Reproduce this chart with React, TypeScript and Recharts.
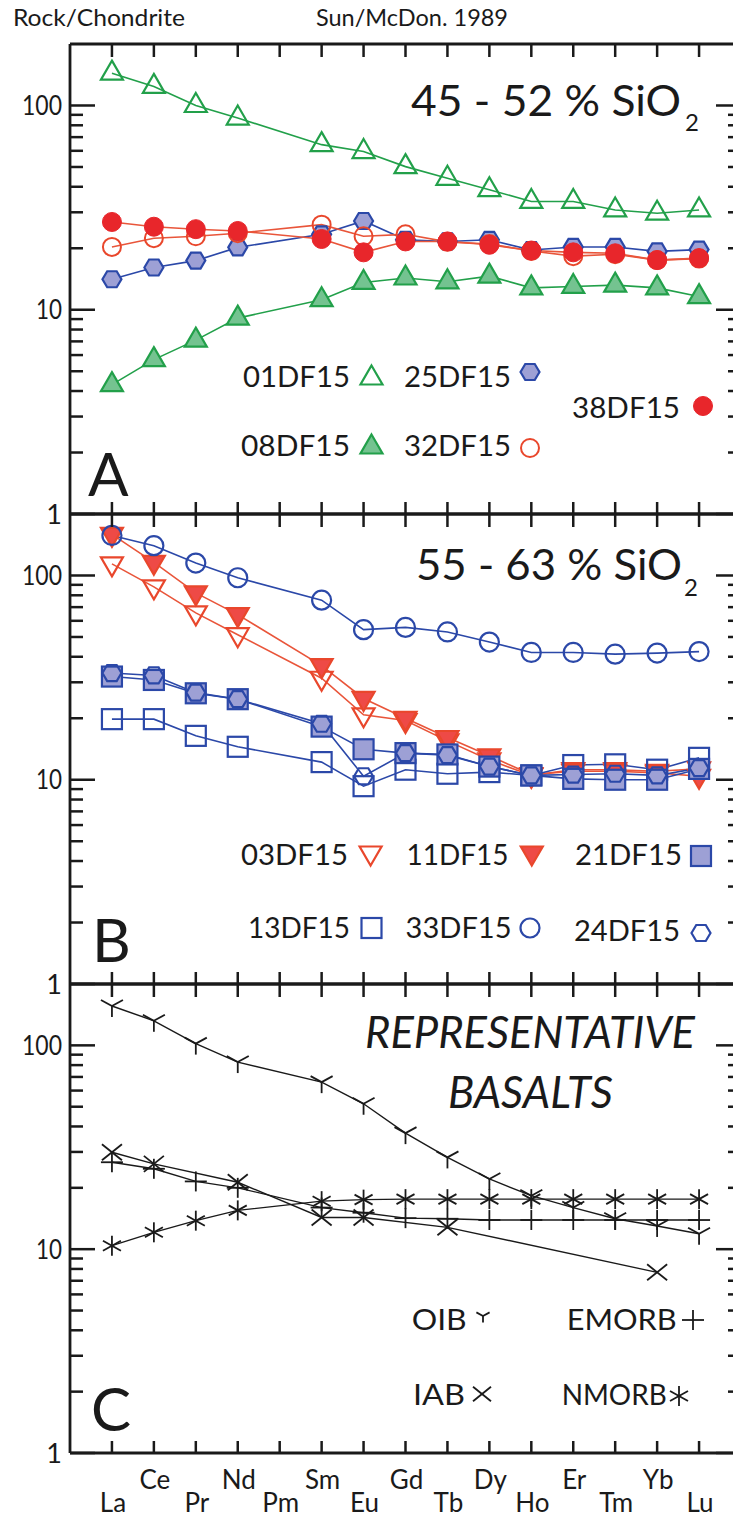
import React from 'react';
import { LineChart, Line, XAxis, YAxis } from 'recharts';

// ---------- categories & ticks ----------
const elements = ['La', 'Ce', 'Pr', 'Nd', 'Pm', 'Sm', 'Eu', 'Gd', 'Tb', 'Dy', 'Ho', 'Er', 'Tm', 'Yb', 'Lu'];
const positions = [1, 2, 3, 4, 5, 6, 7, 8, 9, 10, 11, 12, 13, 14, 15];
const yTicks = [1, 2, 3, 4, 5, 6, 7, 8, 9, 10, 20, 30, 40, 50, 60, 70, 80, 90, 100];
const yLabelled = [1, 10, 100];

// ---------- Panel A : 45 - 52 % SiO2 ----------
const s01DF15 = [144, 124, 100, 86.8, null, 64.3, 59.5, 50.2, 44, 38.7, 33.9, 33.9, 30.8, 29.7, 30.8];
const s08DF15 = [4.3, 5.7, 7.1, 9.1, null, 11.2, 13.6, 14.3, 13.7, 14.6, 12.8, 13.0, 13.2, 12.8, 11.6];
const s25DF15 = [14.1, 16.1, 17.4, 20.2, null, 23.4, 27.2, 22, 21.6, 22, 19.6, 20.3, 20.3, 19.3, 19.7];
const s32DF15 = [20.3, 22.4, 22.9, 23.7, null, 26.1, 22.9, 23.4, 21.5, 21, 19.4, 18.3, 18.7, 17.5, 17.8];
const s38DF15 = [26.9, 25.5, 24.8, 24.3, null, 22.2, 19.1, 21.6, 21.6, 20.8, 19.5, 19.1, 18.9, 17.5, 17.9];

// ---------- Panel B : 55 - 63 % SiO2 ----------
const s03DF15 = [114, 88, 65.6, 51.3, null, 31.4, 20.8, 19.5, 15.5, 12.5, 10.5, 11.2, 11.2, 11, 11.3];
const s11DF15 = [159, 116, 82.2, 64.3, null, 36.2, 25, 20, 16.1, 13.1, 10.6, 11, 11, 10.8, 10.4];
const s33DF15 = [157, 140, 115, 97.5, null, 75.7, 54.3, 55.7, 52.9, 47.2, 42, 42, 41.2, 41.7, 42.4];
const s13DF15 = [19.8, 19.8, 16.4, 14.5, null, 12.2, 9.3, 11.2, 10.7, 10.9, 10.5, 11.8, 11.9, 11.2, 12.8];
const s21DF15 = [32, 30.8, 26.5, 24.8, null, 18.2, 14.1, 13.5, 13.3, 11.6, 10.5, 10.1, 10.0, 10.0, 11.3];
const s24DF15 = [33.3, 32.4, 26.7, 24.8, null, 18.8, 10.4, 13.5, 13.2, 11.6, 10.5, 10.6, 10.7, 10.5, 11.4];

// ---------- Panel C : representative basalts ----------
const oib = [156, 132, 102, 82.8, null, 66, 51.7, 37.1, 28.2, 22.1, 18.3, 16.0, 14.1, 13.0, 11.9];
const iab = [29.9, 26.2, null, 21.3, null, 14.3, 14.3, null, 12.8, null, null, null, null, 7.7, null];
const emorb = [26.7, 24.8, 21.5, 20, null, 16, 15.1, 14.2, 14.1, 13.9, 13.9, 13.9, 13.9, 13.9, 13.9];
const nmorb = [10.4, 12.1, 13.8, 15.5, null, 17.2, 17.5, 17.6, 17.6, 17.6, 17.6, 17.6, 17.6, 17.6, 17.6];

const buildRows = (cols: Record<string, (number | null)[]>) =>
  elements.map((el, i) => {
    const row: any = { x: positions[i], el };
    Object.keys(cols).forEach((k) => (row[k] = cols[k][i]));
    return row;
  });

const rowsA = buildRows({ s01DF15, s08DF15, s25DF15, s32DF15, s38DF15 });
const rowsB = buildRows({ s03DF15, s11DF15, s33DF15, s13DF15, s21DF15, s24DF15 });
const rowsC = buildRows({ oib, iab, emorb, nmorb });

// ---------- styles ----------
const FONT = "Lato, 'Open Sans', sans-serif";
const INK = '#1a1a1a';
const GREEN = '#22a04a';
const GREEN_FILL = '#74c390';
const BLUE = '#2b48a8';
const BLUE_FILL = '#9da0d5';
const RED = '#e8262b';
const RED_LINE = '#e9553a';
const RED_OPEN = '#e9472c';
const RED_TRI_FILL = '#ee4a46';

const W = 760;

type Kind =
  | 'triUpOpen' | 'triUpFilled' | 'hexFilled' | 'hexOpen' | 'circleFilled' | 'circleOpen' | 'circleOpenBlue'
  | 'triDownOpen' | 'triDownFilled' | 'squareFilled' | 'squareOpen' | 'Y' | 'plus' | 'cross' | 'star';

function marker(kind: Kind, cx: number, cy: number, scale = 1) {
  const s = scale;
  switch (kind) {
    case 'triUpOpen':
    case 'triUpFilled': {
      const pts = `${cx},${cy - 12.5 * s} ${cx + 11 * s},${cy + 6.5 * s} ${cx - 11 * s},${cy + 6.5 * s}`;
      return <polygon points={pts} fill={kind === 'triUpFilled' ? GREEN_FILL : 'none'} stroke={GREEN} strokeWidth={2.2} strokeLinejoin="miter" />;
    }
    case 'triDownOpen':
    case 'triDownFilled': {
      const pts = `${cx},${cy + 12.5 * s} ${cx + 11 * s},${cy - 6.5 * s} ${cx - 11 * s},${cy - 6.5 * s}`;
      return <polygon points={pts} fill={kind === 'triDownFilled' ? RED_TRI_FILL : 'none'} stroke={RED_OPEN} strokeWidth={2.2} />;
    }
    case 'hexFilled':
    case 'hexOpen': {
      const a = 9.5 * s, b = 4.75 * s, h = 8 * s;
      const pts = `${cx - a},${cy} ${cx - b},${cy - h} ${cx + b},${cy - h} ${cx + a},${cy} ${cx + b},${cy + h} ${cx - b},${cy + h}`;
      return <polygon points={pts} fill={kind === 'hexFilled' ? BLUE_FILL : 'none'} stroke={BLUE} strokeWidth={2.2} />;
    }
    case 'circleFilled':
      return <circle cx={cx} cy={cy} r={9.5 * s} fill={RED} stroke={RED} strokeWidth={1} />;
    case 'circleOpen':
      return <circle cx={cx} cy={cy} r={9 * s} fill="none" stroke={RED_OPEN} strokeWidth={2} />;
    case 'circleOpenBlue':
      return <circle cx={cx} cy={cy} r={9.5 * s} fill="none" stroke={BLUE} strokeWidth={2.2} />;
    case 'squareFilled':
    case 'squareOpen': {
      const d = 10 * s;
      return <rect x={cx - d} y={cy - d} width={2 * d} height={2 * d} fill={kind === 'squareFilled' ? BLUE_FILL : 'none'} stroke={BLUE} strokeWidth={2.2} />;
    }
    case 'Y':
      return (
        <g stroke={INK} strokeWidth={1.8} fill="none">
          <line x1={cx} y1={cy} x2={cx - 11 * s} y2={cy - 6 * s} />
          <line x1={cx} y1={cy} x2={cx + 11 * s} y2={cy - 6 * s} />
          <line x1={cx} y1={cy} x2={cx} y2={cy + 11 * s} />
        </g>
      );
    case 'plus':
      return (
        <g stroke={INK} strokeWidth={1.8}>
          <line x1={cx - 11 * s} y1={cy} x2={cx + 11 * s} y2={cy} />
          <line x1={cx} y1={cy - 10 * s} x2={cx} y2={cy + 10 * s} />
        </g>
      );
    case 'cross':
      return (
        <g stroke={INK} strokeWidth={1.8}>
          <line x1={cx - 10 * s} y1={cy - 8 * s} x2={cx + 10 * s} y2={cy + 8 * s} />
          <line x1={cx - 10 * s} y1={cy + 8 * s} x2={cx + 10 * s} y2={cy - 8 * s} />
        </g>
      );
    case 'star':
      return (
        <g stroke={INK} strokeWidth={1.8}>
          <line x1={cx} y1={cy - 10 * s} x2={cx} y2={cy + 10 * s} />
          <line x1={cx - 9 * s} y1={cy - 5 * s} x2={cx + 9 * s} y2={cy + 5 * s} />
          <line x1={cx - 9 * s} y1={cy + 5 * s} x2={cx + 9 * s} y2={cy - 5 * s} />
        </g>
      );
  }
  return null;
}

const dotFor = (kind: Kind) => (p: any) => {
  const { cx, cy, index } = p;
  if (cx == null || cy == null || !Number.isFinite(cx) || !Number.isFinite(cy) || p.value == null) {
    return <g key={`d-${index}`} />;
  }
  return <g key={`d-${index}`}>{marker(kind, cx, cy)}</g>;
};

// ---------- custom ticks ----------
const LeftTick = (props: any) => {
  const { x, y, payload } = props;
  const v = payload.value;
  const major = yLabelled.includes(v);
  return (
    <g>
      <line x1={x} x2={x + (major ? 25 : 13)} y1={y} y2={y} stroke={INK} strokeWidth={2.5} />
      {major && (
        <text x={62} y={y} dy="0.36em" textAnchor="end" fontFamily={FONT} fontSize={27} fill={INK}
          {...(v === 100 ? { textLength: 40, lengthAdjust: 'spacingAndGlyphs' } : v === 10 ? { textLength: 26, lengthAdjust: 'spacingAndGlyphs' } : {})}>
          {v}
        </text>
      )}
    </g>
  );
};

const RightTick = (props: any) => {
  const { x, y, payload } = props;
  const major = yLabelled.includes(payload.value);
  return <line x1={x} x2={x - (major ? 25 : 13)} y1={y} y2={y} stroke={INK} strokeWidth={2.5} />;
};

const TopTick = (props: any) => {
  const { x, y } = props;
  return <line x1={x} x2={x} y1={y} y2={y + 13} stroke={INK} strokeWidth={2.5} />;
};

const makeBottomTick = (labels: boolean) => (props: any) => {
  const { x, y, payload } = props;
  const v = payload.value as number;
  const lower = v % 2 === 1;
  return (
    <g>
      <line x1={x} x2={x} y1={y} y2={y - 12} stroke={INK} strokeWidth={2.5} />
      {labels && (
        <text x={x + 1} y={y + (lower ? 59 : 36)} textAnchor="middle" fontFamily={FONT} fontSize={26} fill={INK}>
          {elements[v - 1]}
        </text>
      )}
    </g>
  );
};

type SeriesDef = { key: string; line: string; kind: Kind };

const seriesA: SeriesDef[] = [
  { key: 's01DF15', line: GREEN, kind: 'triUpOpen' },
  { key: 's08DF15', line: GREEN, kind: 'triUpFilled' },
  { key: 's25DF15', line: BLUE, kind: 'hexFilled' },
  { key: 's32DF15', line: RED_LINE, kind: 'circleOpen' },
  { key: 's38DF15', line: RED_LINE, kind: 'circleFilled' },
];
const seriesB: SeriesDef[] = [
  { key: 's03DF15', line: RED_LINE, kind: 'triDownOpen' },
  { key: 's11DF15', line: RED_LINE, kind: 'triDownFilled' },
  { key: 's33DF15', line: BLUE, kind: 'circleOpenBlue' },
  { key: 's13DF15', line: BLUE, kind: 'squareOpen' },
  { key: 's21DF15', line: BLUE, kind: 'squareFilled' },
  { key: 's24DF15', line: BLUE, kind: 'hexOpen' },
];
const seriesC: SeriesDef[] = [
  { key: 'oib', line: INK, kind: 'Y' },
  { key: 'iab', line: INK, kind: 'cross' },
  { key: 'emorb', line: INK, kind: 'plus' },
  { key: 'nmorb', line: INK, kind: 'star' },
];

const axisLine = { stroke: INK, strokeWidth: 2.8 };

function Panel(props: { top: number; bottomH: number; data: any[]; series: SeriesDef[]; labels: boolean }) {
  const { top, bottomH, data, series, labels } = props;
  const plotH = labels ? 469 : 470;
  const height = 44 + plotH + bottomH;
  return (
    <div style={{ position: 'absolute', left: 0, top, width: W, height }}>
      <LineChart width={W} height={height} data={data} margin={{ top: 0, right: 0, bottom: 0, left: 0 }}>
        <XAxis xAxisId="b" dataKey="x" type="number" domain={[0, 16]} ticks={positions} interval={0}
          orientation="bottom" height={bottomH} tickSize={0} tickMargin={0} axisLine={axisLine} tickLine={false}
          tick={makeBottomTick(labels)} allowDataOverflow />
        <XAxis xAxisId="t" dataKey="x" type="number" domain={[0, 16]} ticks={positions} interval={0}
          orientation="top" height={44} tickSize={0} tickMargin={0} axisLine={axisLine} tickLine={false}
          tick={TopTick} allowDataOverflow />
        <YAxis yAxisId="l" type="number" scale="log" domain={[1, 200]} ticks={yTicks} interval={0}
          orientation="left" width={70} tickSize={0} tickMargin={0} axisLine={axisLine} tickLine={false}
          tick={LeftTick} allowDataOverflow />
        <YAxis yAxisId="r" type="number" scale="log" domain={[1, 200]} ticks={yTicks} interval={0}
          orientation="right" width={19} tickSize={0} tickMargin={0} axisLine={axisLine} tickLine={false}
          tick={RightTick} allowDataOverflow />
        <Line xAxisId="t" yAxisId="r" dataKey={series[0].key} stroke="none" dot={false} activeDot={false}
          isAnimationActive={false} connectNulls />
        {series.map((s) => (
          <Line key={s.key} xAxisId="b" yAxisId="l" dataKey={s.key} type="linear" stroke={s.line}
            strokeWidth={s.line === INK ? 1.4 : 1.6} connectNulls dot={dotFor(s.kind)} activeDot={false}
            isAnimationActive={false} />
        ))}
      </LineChart>
    </div>
  );
}

// ---------- overlay texts / legends ----------
const T = (p: { x: number; y: number; len?: number; size?: number; italic?: boolean; children: React.ReactNode }) => (
  <text x={p.x} y={p.y} fontFamily={FONT} fontSize={p.size ?? 28} fill={INK} fontStyle={p.italic ? 'italic' : 'normal'}
    {...(p.len ? { textLength: p.len, lengthAdjust: 'spacingAndGlyphs' } : {})}>
    {p.children}
  </text>
);

const legendA = [
  { label: '01DF15', x: 243, y: 387, len: 107, kind: 'triUpOpen' as Kind, mx: 371.5, my: 378 },
  { label: '25DF15', x: 404, y: 387, len: 107, kind: 'hexFilled' as Kind, mx: 530, my: 372 },
  { label: '38DF15', x: 572, y: 418, len: 108, kind: 'circleFilled' as Kind, mx: 703, my: 406 },
  { label: '08DF15', x: 241, y: 456, len: 109, kind: 'triUpFilled' as Kind, mx: 371.5, my: 447 },
  { label: '32DF15', x: 404, y: 456, len: 107, kind: 'circleOpen' as Kind, mx: 530, my: 448 },
];
const legendB = [
  { label: '03DF15', x: 241, y: 865, len: 107, kind: 'triDownOpen' as Kind, mx: 370.6, my: 853 },
  { label: '11DF15', x: 406.5, y: 865, len: 102, kind: 'triDownFilled' as Kind, mx: 531.8, my: 853 },
  { label: '21DF15', x: 575, y: 865, len: 107, kind: 'squareFilled' as Kind, mx: 701, my: 856 },
  { label: '13DF15', x: 248, y: 938, len: 102, kind: 'squareOpen' as Kind, mx: 371.5, my: 928 },
  { label: '33DF15', x: 405.6, y: 938, len: 106, kind: 'circleOpenBlue' as Kind, mx: 530, my: 928 },
  { label: '24DF15', x: 574, y: 941, len: 106, kind: 'hexOpen' as Kind, mx: 701, my: 933 },
];
const legendC = [
  { label: 'OIB', x: 411.7, y: 1330, len: 55, kind: 'Y' as Kind, mx: 483, my: 1316, s: 0.6 },
  { label: 'EMORB', x: 566.7, y: 1330, len: 110, kind: 'plus' as Kind, mx: 693, my: 1320, s: 1 },
  { label: 'IAB', x: 413, y: 1405, len: 52, kind: 'cross' as Kind, mx: 482, my: 1394, s: 0.9 },
  { label: 'NMORB', x: 561.7, y: 1405, len: 105, kind: 'star' as Kind, mx: 679, my: 1396, s: 1 },
];

export default function App() {
  return (
    <div style={{ position: 'absolute', left: 0, top: 0, width: 733, height: 1519, overflow: 'hidden', background: '#fff' }}>
      <Panel top={0} bottomH={16} data={rowsA} series={seriesA} labels={false} />
      <Panel top={470} bottomH={16} data={rowsB} series={seriesB} labels={false} />
      <Panel top={940} bottomH={66} data={rowsC} series={seriesC} labels={true} />
      <svg width={733} height={1519} style={{ position: 'absolute', left: 0, top: 0, pointerEvents: 'none' }}>
        <T x={13} y={26} size={23} len={172}>Rock/Chondrite</T>
        <T x={316} y={26} size={23} len={192}>Sun/McDon. 1989</T>

        <T x={411} y={116} size={42} len={270}>45 - 52 % SiO</T>
        <T x={685} y={131} size={24}>2</T>
        <T x={416} y={580} size={42} len={266}>55 - 63 % SiO</T>
        <T x={684} y={596} size={24}>2</T>
        <T x={365} y={1048} size={44} len={330} italic>REPRESENTATIVE</T>
        <T x={448} y={1108} size={44} len={165} italic>BASALTS</T>

        <T x={88} y={496} size={60}>A</T>
        <T x={92} y={962} size={60}>B</T>
        <T x={91} y={1431} size={60}>C</T>

        {legendA.map((l) => (
          <g key={l.label}>
            <T x={l.x} y={l.y} len={l.len}>{l.label}</T>
            {marker(l.kind, l.mx, l.my)}
          </g>
        ))}
        {legendB.map((l) => (
          <g key={l.label}>
            <T x={l.x} y={l.y} len={l.len}>{l.label}</T>
            {marker(l.kind, l.mx, l.my)}
          </g>
        ))}
        {legendC.map((l) => (
          <g key={l.label}>
            <T x={l.x} y={l.y} len={l.len}>{l.label}</T>
            {marker(l.kind, l.mx, l.my, l.s)}
          </g>
        ))}
      </svg>
    </div>
  );
}
